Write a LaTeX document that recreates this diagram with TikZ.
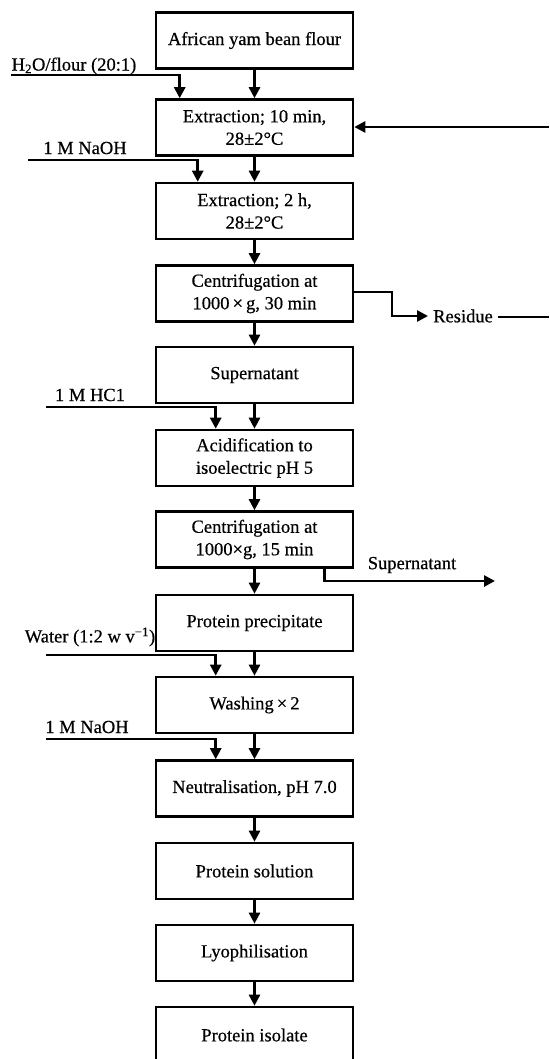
\documentclass[tikz,border=0pt]{standalone}
\usepackage{fontspec}
\setmainfont{Liberation Serif}[FakeBold=0.5]
\usetikzlibrary{arrows.meta,calc}
\begin{document}
\begin{tikzpicture}[x=1pt,y=-1pt,
  box/.style={draw,line width=2.6pt,minimum width=197pt,minimum height=56pt,inner sep=2pt,align=center,font=\fontsize{18.5}{22.5}\selectfont},
  lab/.style={inner sep=2pt,font=\fontsize{18.5}{22.5}\selectfont},
  arr/.style={line width=2.6pt,-{Triangle[length=11pt,width=11pt]}},
  ln/.style={line width=2.6pt}]
\useasboundingbox (0,0) rectangle (549,1059);
\node[box] (b1) at (254.5,40.5) {African yam bean flour};
\node[box] (b2) at (254.5,127.5) {Extraction; 10 min,\\28±2°C};
\node[box] (b3) at (254.5,211) {Extraction; 2 h,\\28±2°C};
\node[box] (b4) at (254.5,293.5) {Centrifugation at\\1000\,×\,g, 30 min};
\node[box] (b5) at (254.5,375) {Supernatant};
\node[box] (b6) at (254.5,458) {Acidification to\\isoelectric pH 5};
\node[box] (b7) at (254.5,539.5) {Centrifugation at\\1000×g, 15 min};
\node[box] (b8) at (254.5,623) {Protein precipitate};
\node[box] (b9) at (254.5,705) {Washing\,×\,2};
\node[box] (b10) at (254.5,788.5) {Neutralisation, pH 7.0};
\node[box] (b11) at (254.5,871) {Protein solution};
\node[box] (b12) at (254.5,953) {Lyophilisation};
\node[box] (b13) at (254.5,1035) {Protein isolate};
% main flow
\draw[arr] (b1) -- (b2);
\draw[arr] (b2) -- (b3);
\draw[arr] (b3) -- (b4);
\draw[arr] (b4) -- (b5);
\draw[arr] (b5) -- (b6);
\draw[arr] (b6) -- (b7);
\draw[arr] (b7) -- (b8);
\draw[arr] (b8) -- (b9);
\draw[arr] (b9) -- (b10);
\draw[arr] (b10) -- (b11);
\draw[arr] (b11) -- (b12);
\draw[arr] (b12) -- (b13);
% side inputs
\node[lab] (l1) at (74,66) {H\textsubscript{2}O/flour (20:1)};
\coordinate (s1) at (11,75);
\draw[arr] (s1) -| ($(b2.north west)+(25,0)$);
\node[lab] (l2) at (85,148) {1 M NaOH};
\coordinate (s2) at (28,160);
\draw[arr] (s2) -| ($(b3.north west)+(43,0)$);
\node[lab] (l3) at (90,395) {1 M HC1};
\coordinate (s3) at (46,407);
\draw[arr] (s3) -| ($(b6.north west)+(61,0)$);
\node[lab] (l4) at (90,637) {Water (1:2 w v\textsuperscript{−1})};
\coordinate (s4) at (46,655);
\draw[arr] (s4) -| ($(b9.north west)+(61,0)$);
\node[lab] (l5) at (87,727) {1 M NaOH};
\coordinate (s5) at (46,739);
\draw[arr] (s5) -| ($(b10.north west)+(61,0)$);
% residue and recycle
\node[lab,inner sep=5pt] (res) at (463,316) {Residue};
\coordinate (r1) at (392,292);
\draw[arr] (b4.east |- r1) -- (r1) |- (res.west);
\coordinate (re) at (549,317);
\draw[ln] (res.east |- re) -- (re);
\coordinate (rin) at (549,127);
\draw[arr] (rin) -- (b2.east |- rin);
% supernatant out
\node[lab] (sup) at (412,565) {Supernatant};
\coordinate (so) at (495,581);
\draw[arr] ($(b7.south west)+(170,0)$) |- (so);
\end{tikzpicture}
\end{document}
